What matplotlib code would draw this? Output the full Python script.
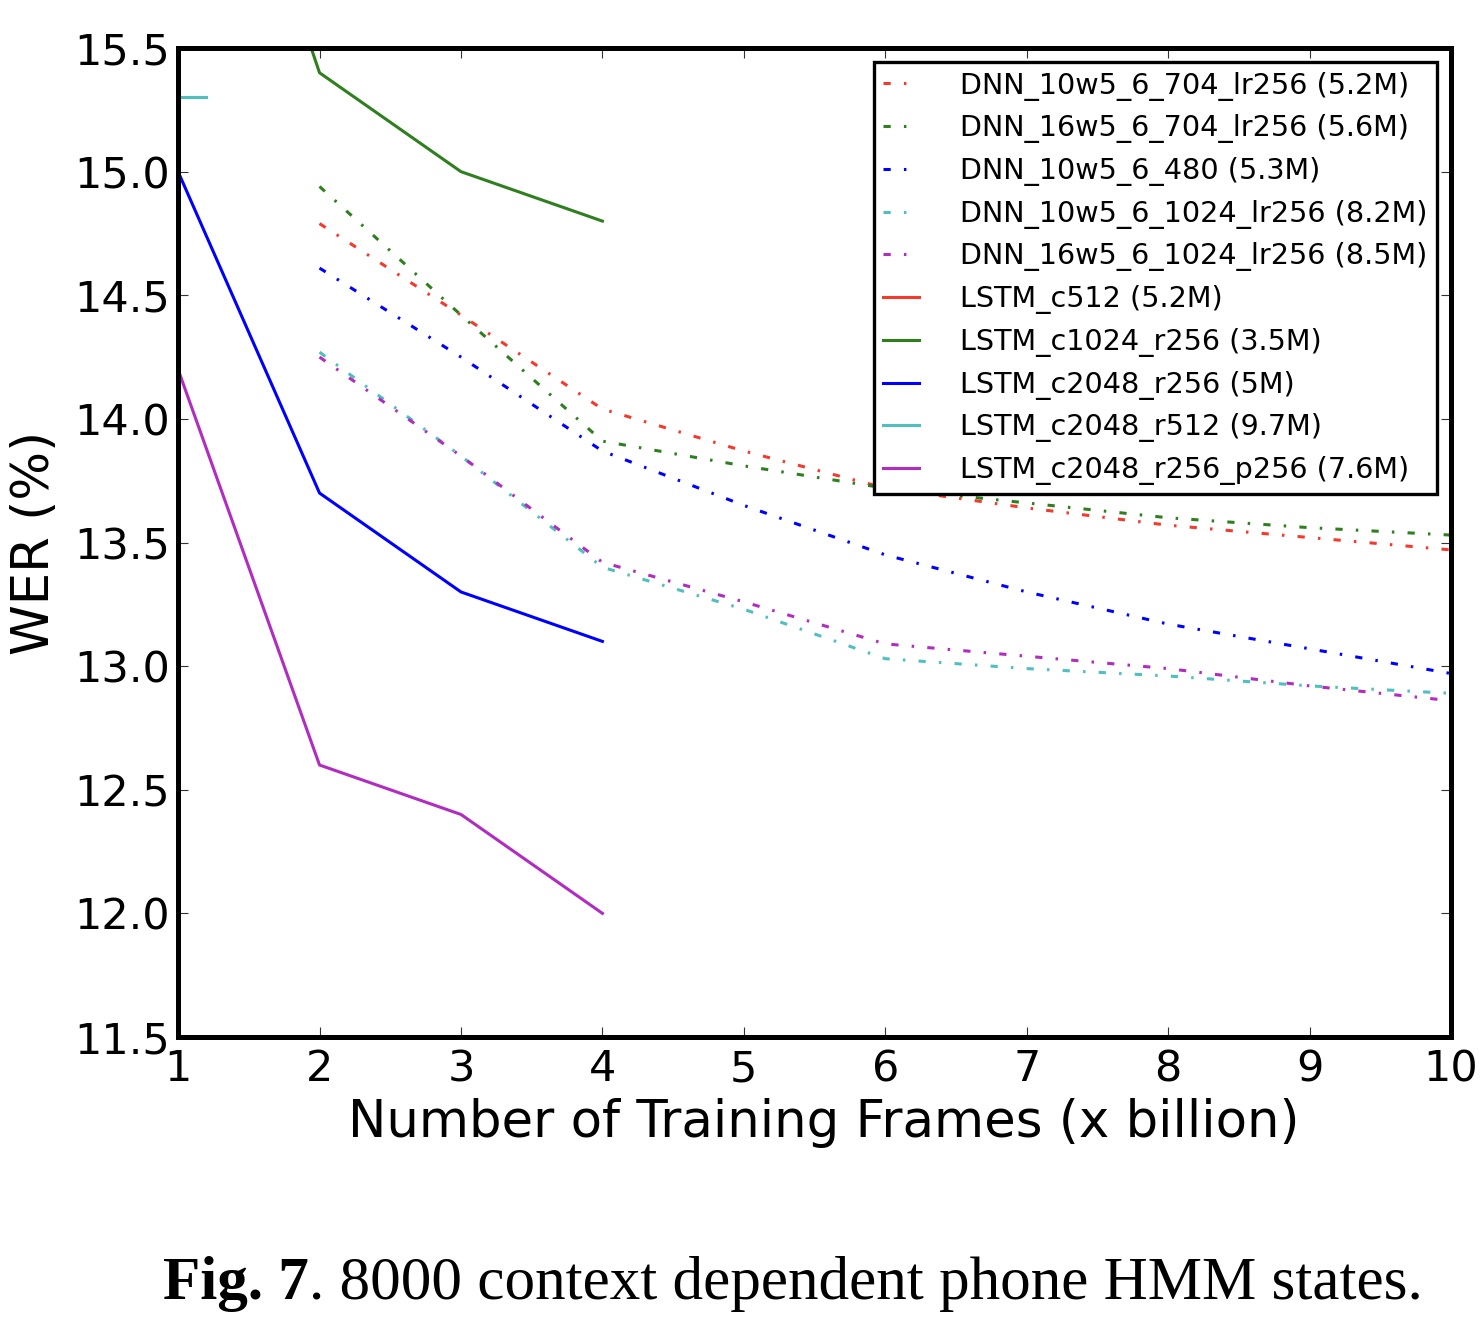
import matplotlib
matplotlib.use('Agg')
import matplotlib.pyplot as plt

plt.rcParams['lines.scale_dashes'] = False

# x axis: training frames (billion)
frames = [1, 2, 3, 4, 5, 6, 7, 8, 9, 10]
frames_dnn = [2, 3, 4, 5, 6, 7, 8, 9, 10]
frames_lstm = [1, 2, 3, 4]
frames_lstm_r512 = [1, 1.2]

# DNN curves (WER %)
dnn_10w5_704 = [14.79, 14.42, 14.04, 13.87, 13.72, 13.64, 13.57, 13.52, 13.47]
dnn_16w5_704 = [14.94, 14.42, 13.91, 13.81, 13.72, 13.66, 13.60, 13.56, 13.53]
dnn_10w5_480 = [14.61, 14.25, 13.87, 13.65, 13.45, 13.30, 13.17, 13.07, 12.97]
dnn_10w5_1024 = [14.27, 13.85, 13.40, 13.23, 13.03, 12.99, 12.96, 12.92, 12.89]
dnn_16w5_1024 = [14.25, 13.85, 13.42, 13.26, 13.09, 13.04, 12.99, 12.92, 12.86]

# LSTM curves (WER %)
lstm_c512 = [16.6, 16.1, 15.9, 15.75]
lstm_c1024_r256 = [17.1, 15.4, 15.0, 14.8]
lstm_c2048_r256 = [15.0, 13.7, 13.3, 13.1]
lstm_c2048_r512 = [15.3, 15.3]
lstm_c2048_r256_p256 = [14.2, 12.6, 12.4, 12.0]

red = '#f5392b'
green = '#2f7f1f'
blue = '#0000ff'
cyan = '#50bfbf'
magenta = '#b12cc0'

fig = plt.figure(figsize=(14.84, 13.42), dpi=100)
ax = fig.add_axes([0.12, 0.2273, 0.8578, 0.7369])

dd = (5.2, 9.5, 1.8, 9.5)
lw_d = 2.2
ax.plot(frames_dnn, dnn_10w5_704, color=red, lw=lw_d, dashes=dd, label='DNN_10w5_6_704_lr256 (5.2M)')
ax.plot(frames_dnn, dnn_16w5_704, color=green, lw=lw_d, dashes=dd, label='DNN_16w5_6_704_lr256 (5.6M)')
ax.plot(frames_dnn, dnn_10w5_480, color=blue, lw=lw_d, dashes=dd, label='DNN_10w5_6_480 (5.3M)')
ax.plot(frames_dnn, dnn_10w5_1024, color=cyan, lw=lw_d, dashes=dd, label='DNN_10w5_6_1024_lr256 (8.2M)')
ax.plot(frames_dnn, dnn_16w5_1024, color=magenta, lw=lw_d, dashes=dd, label='DNN_16w5_6_1024_lr256 (8.5M)')

lw_s = 2.2
ax.plot(frames_lstm, lstm_c512, color=red, lw=lw_s, label='LSTM_c512 (5.2M)')
ax.plot(frames_lstm, lstm_c1024_r256, color=green, lw=lw_s, label='LSTM_c1024_r256 (3.5M)')
ax.plot(frames_lstm, lstm_c2048_r256, color=blue, lw=lw_s, label='LSTM_c2048_r256 (5M)')
ax.plot(frames_lstm_r512, lstm_c2048_r512, color=cyan, lw=lw_s, label='LSTM_c2048_r512 (9.7M)')
ax.plot(frames_lstm, lstm_c2048_r256_p256, color=magenta, lw=lw_s, label='LSTM_c2048_r256_p256 (7.6M)')

ax.set_xlim(1, 10)
ax.set_ylim(11.5, 15.5)
ax.set_xticks(frames)
ax.set_yticks([11.5, 12.0, 12.5, 13.0, 13.5, 14.0, 14.5, 15.0, 15.5])
ax.set_yticklabels(['11.5', '12.0', '12.5', '13.0', '13.5', '14.0', '14.5', '15.0', '15.5'])

for s in ax.spines.values():
    s.set_linewidth(3.6)
ax.tick_params(direction='in', length=7, width=0.8, color='#333333',
               top=True, right=True, labelsize=31)
ax.tick_params(axis='x', pad=8)
ax.tick_params(axis='y', pad=6)

ax.set_xlabel('Number of Training Frames (x billion)', fontsize=37)
ax.set_ylabel('WER (%)', fontsize=37, labelpad=10)
ax.xaxis.set_label_coords(0.507, -0.062)

leg = ax.legend(loc='upper right', fontsize=20.6, handlelength=1.25, handletextpad=1.45,
                labelspacing=0.48, borderaxespad=0.5, borderpad=0.32, fancybox=False,
                framealpha=1)
leg.get_frame().set_edgecolor('black')
leg.get_frame().set_linewidth(2.4)

# caption, bold "Fig. 7" followed by regular text
fig.canvas.draw()
r = fig.canvas.get_renderer()
t1 = fig.text(0, 0.032, 'Fig. 7', fontsize=44, fontweight='bold', family='Liberation Serif')
t2 = fig.text(0, 0.032, '. 8000 context dependent phone HMM states.', fontsize=44,
              family='Liberation Serif')
w1 = t1.get_window_extent(r).width
w2 = t2.get_window_extent(r).width
x0 = 793 - (w1 + w2) / 2
t1.set_x(x0 / 1484)
t2.set_x((x0 + w1) / 1484)

fig.savefig('out.png', dpi=100)
